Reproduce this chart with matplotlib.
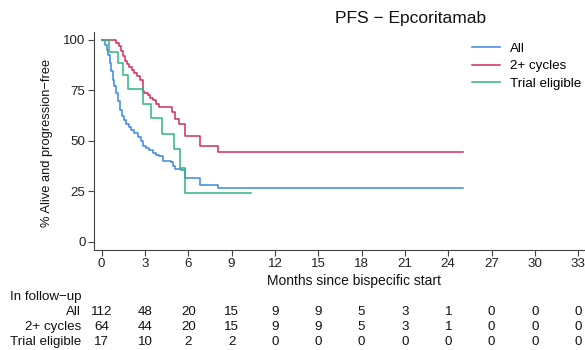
import matplotlib
matplotlib.use("Agg")
import matplotlib.pyplot as plt
from matplotlib.transforms import blended_transform_factory

plt.rcParams['font.family'] = ['Liberation Sans', 'DejaVu Sans']

# ---- data ----
all_t = [0, 0.23, 0.37, 0.46, 0.58, 0.67, 0.76, 0.88, 1.0, 1.13, 1.27, 1.39, 1.53, 1.69, 1.87,
         2.06, 2.27, 2.5, 2.73, 2.84, 3.07, 3.3, 3.53, 3.77, 4.0, 4.23, 4.81, 4.92, 5.1, 5.5,
         5.8, 6.81, 8.04, 25.0]
all_s = [100, 97.5, 95.0, 92.6, 88.5, 84.3, 80.2, 76.9, 73.6, 69.5, 65.4, 62.4, 60.4, 58.4, 56.6,
         55.5, 53.8, 51.9, 49.8, 47.3, 46.4, 45.3, 44.0, 43.1, 42.3, 39.8, 39.3, 37.4, 36.0, 35.7,
         31.6, 28.3, 26.7, 26.7]

cyc_t = [0, 1.0, 1.18, 1.34, 1.46, 1.62, 1.76, 1.92, 2.08, 2.27, 2.45, 2.68, 2.84, 2.96, 3.19,
         3.37, 3.58, 3.77, 4.0, 4.88, 5.06, 5.38, 5.8, 6.81, 8.04, 25.0]
cyc_s = [100, 98.3, 96.7, 94.2, 92.1, 89.3, 88.0, 86.3, 85.2, 83.5, 81.9, 80.2, 74.7, 73.6, 72.5,
         71.2, 70.0, 68.3, 66.7, 64.1, 60.8, 58.3, 52.5, 47.2, 44.5, 44.5]

tri_t = [0, 0.53, 1.16, 1.48, 1.85, 2.84, 3.44, 4.18, 4.99, 5.43, 5.8, 10.37]
tri_s = [100, 94.1, 88.2, 82.4, 75.5, 68.4, 61.3, 53.4, 46.0, 36.7, 24.2, 24.2]

series_names = ["All", "2+ cycles", "Trial eligible"]
series_colors = ["#3A86E0", "#D42A5B", "#2BB57F"]

x_ticks = [0, 3, 6, 9, 12, 15, 18, 21, 24, 27, 30, 33]
y_ticks = [0, 25, 50, 75, 100]

risk_all = [112, 48, 20, 15, 9, 9, 5, 3, 1, 0, 0, 0]
risk_cyc = [64, 44, 20, 15, 9, 9, 5, 3, 1, 0, 0, 0]
risk_tri = [17, 10, 2, 2, 0, 0, 0, 0, 0, 0, 0, 0]

# ---- figure ----
W, H = 585, 350
FS = 9.6
fig = plt.figure(figsize=(W / 100, H / 100), dpi=100)

ax_left, ax_bottom = 94 / W, 100 / H
ax_w, ax_h = (585 - 94) / W, 218.5 / H
ax = fig.add_axes([ax_left, ax_bottom, ax_w, ax_h])

for t, s, name, col in zip([all_t, cyc_t, tri_t], [all_s, cyc_s, tri_s], series_names, series_colors):
    ax.step(t, s, where='post', color=col, lw=1.1, label=name)

ax.set_xlim(-0.53, 33.47)
ax.set_ylim(-4, 104)
ax.set_xticks(x_ticks)
ax.set_yticks(y_ticks)
for sp in ['top', 'right']:
    ax.spines[sp].set_visible(False)
for sp in ['left', 'bottom']:
    ax.spines[sp].set_color('#444444')
    ax.spines[sp].set_linewidth(0.8)
ax.tick_params(axis='both', length=4, width=0.8, color='#444444', labelsize=FS,
               labelcolor='#222222', pad=2)

leg = ax.legend(loc='upper left', bbox_to_anchor=(467 / W, 1 - 37 / H), bbox_transform=fig.transFigure,
                frameon=False, fontsize=FS, handlelength=2.1, handletextpad=0.75, labelspacing=0.4,
                borderaxespad=0)

fig.text(411 / W, 1 - 18 / H, "PFS − Epcoritamab", ha='center', va='center', fontsize=12.5, color='#111111')
fig.text(354 / W, 1 - 281 / H, "Months since bispecific start", ha='center', va='center', fontsize=10,
         color='#111111')
fig.text(47 / W, 1 - 143 / H, "% Alive and progression−free", ha='center', va='center', rotation=90,
         fontsize=9.3, color='#111111')

# risk table
fig.text(10 / W, 1 - 297 / H, "In follow−up", ha='left', va='center', fontsize=FS, color='#111111')
trans = blended_transform_factory(ax.transData, fig.transFigure)
row_y = [312, 327, 342]
for name, vals, yy in zip(series_names, [risk_all, risk_cyc, risk_tri], row_y):
    fig.text(81 / W, 1 - yy / H, name, ha='right', va='center', fontsize=FS, color='#111111')
    for xt, v in zip(x_ticks, vals):
        ax.text(xt, 1 - yy / H, str(v), transform=trans, ha='center', va='center', fontsize=FS,
                color='#111111', clip_on=False)

fig.savefig("out.png", dpi=100)
